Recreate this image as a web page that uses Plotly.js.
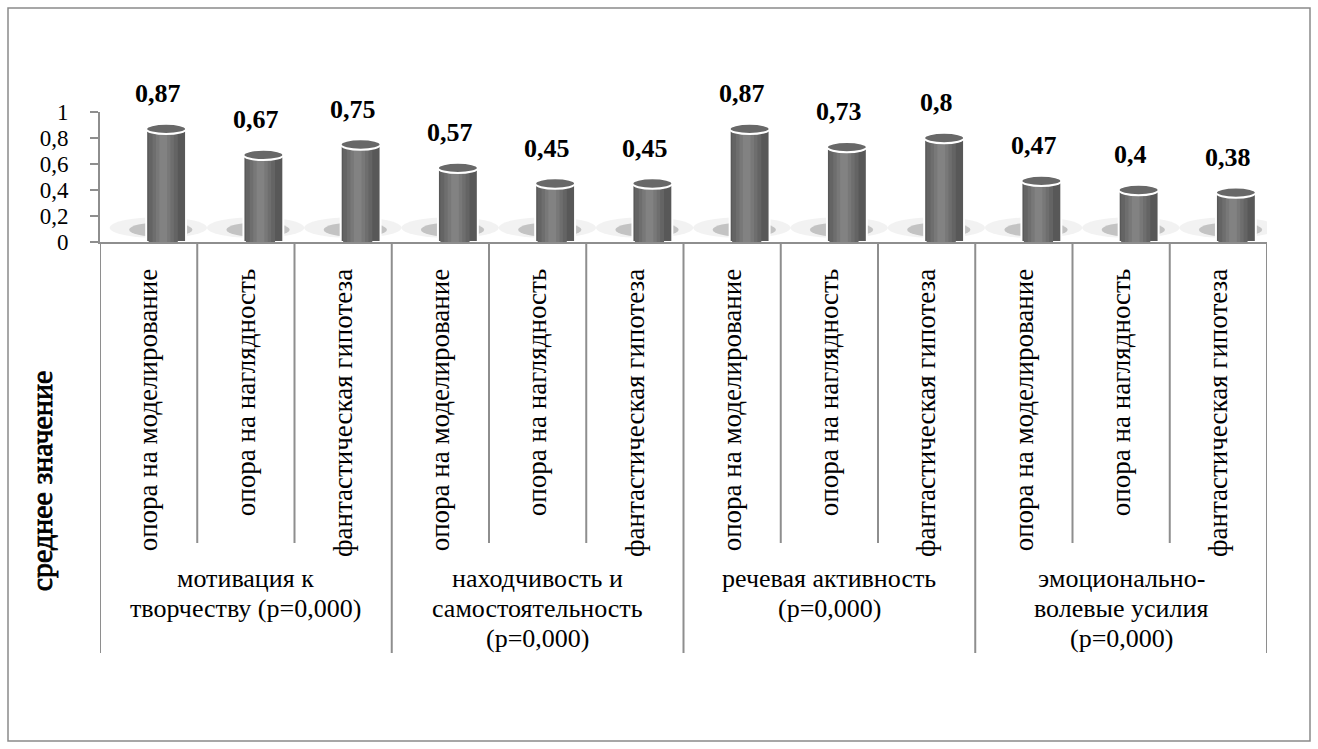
<!DOCTYPE html>
<html>
<head>
<meta charset="utf-8">
<script src="https://cdn.plot.ly/plotly-3.0.1.min.js"></script>
<style>.modebar-container{display:none !important;}</style>
</head>
<body style="margin:0;background:#ffffff">
<div id="ytitle" style="position:absolute;left:42px;top:481px;transform:translate(-50%,-50%) rotate(-90deg);font-family:'Liberation Serif';font-weight:normal;-webkit-text-stroke:0.8px #000000;font-size:30px;color:#000000;white-space:nowrap;z-index:5">среднее значение</div>
<div id="chart"></div>
<script>
// ---- data ----
const groupLabels = [
  ["мотивация к", "творчеству (p=0,000)"],
  ["находчивость и", "самостоятельность", "(p=0,000)"],
  ["речевая активность", "(p=0,000)"],
  ["эмоционально-", "волевые усилия", "(p=0,000)"]
];
const methods = ["опора на моделирование", "опора на наглядность", "фантастическая гипотеза"];
const values = [0.87, 0.67, 0.75, 0.57, 0.45, 0.45, 0.87, 0.73, 0.8, 0.47, 0.4, 0.38];
const yTicks = [0, 0.2, 0.4, 0.6, 0.8, 1];

// ---- layout helpers (pixel -> paper) ----
const W = 1318, H = 749;
const PL = 100, PR = 1267, PT = 112, PB = 242;
const px = v => (v - PL) / (PR - PL);
const py = v => (PB - v) / (PB - PT);
const SERIF = 'Liberation Serif';
const GRID = "#8e8e8e";

const catLabels = [];
groupLabels.forEach(() => methods.forEach(m => catLabels.push(m)));
const idx = values.map((_, i) => i);
const fmt = v => String(v).replace('.', ',');

const BW = 0.41, SH = 0.18; // bar width, 3D shift
const shades = [
  {w: 0.30, c: '#646464'},
  {w: 0.22, c: '#6e6e6e'},
  {w: 0.15, c: '#787878'},
  {w: 0.08, c: '#828282'}
];
const traces = [
  {type: 'bar', x: idx, y: values, width: BW, offset: SH - BW / 2,
   marker: {color: '#585858', line: {color: '#ffffff', width: 2}}, hoverinfo: 'y', cliponaxis: false}
];
shades.forEach(s => traces.push({type: 'bar', x: idx, y: values, width: s.w, offset: SH - 0.03 - s.w / 2,
  marker: {color: s.c, line: {width: 0}}, hoverinfo: 'skip', cliponaxis: false}));

const shapes = [];
// floor shadows
idx.forEach(i => {
  shapes.push({type: 'circle', layer: 'below', xref: 'x', yref: 'y',
    x0: i - 0.4, x1: i + 0.6, y0: 0.03, y1: 0.19,
    fillcolor: 'rgba(170,170,170,0.15)', line: {width: 0}});
  shapes.push({type: 'circle', layer: 'below', xref: 'x', yref: 'y',
    x0: i - 0.2, x1: i + 0.45, y0: 0.04, y1: 0.15,
    fillcolor: 'rgba(110,110,110,0.35)', line: {width: 0}});
});
// cylinder tops
values.forEach((v, i) => {
  shapes.push({type: 'circle', layer: 'above', xref: 'x', yref: 'y',
    x0: i + SH - BW / 2, x1: i + SH + BW / 2, y0: v - 0.04, y1: v + 0.04,
    fillcolor: '#686868', line: {color: '#ffffff', width: 2}});
});
// category separators
for (let b = 0; b <= values.length; b++) {
  const isGroup = b % methods.length === 0;
  shapes.push({type: 'line', xref: 'x', yref: 'paper',
    x0: b - 0.5, x1: b - 0.5, y0: 0, y1: py(isGroup ? 653 : 543),
    line: {color: GRID, width: 2}});
}
// outer frame
shapes.push({type: 'rect', xref: 'paper', yref: 'paper',
  x0: px(8), x1: px(1310), y0: py(8), y1: py(741),
  line: {color: '#8a8a8a', width: 1.5}, fillcolor: 'rgba(0,0,0,0)'});

const annotations = [];
// data labels
values.forEach((v, i) => {
  annotations.push({x: i + 0.1, y: v, xref: 'x', yref: 'y', text: '<b>' + fmt(v) + '</b>',
    showarrow: false, yanchor: 'bottom', xanchor: 'center', yshift: 19,
    font: {family: SERIF, size: 26, color: '#000000'}});
});
// group labels (one annotation per line)
groupLabels.forEach((lines, g) => {
  lines.forEach((ln, k) => {
    annotations.push({x: g * methods.length + (methods.length - 1) / 2, xref: 'x',
      y: py(578 + 30 * k), yref: 'paper', text: ln, showarrow: false,
      xanchor: 'center', yanchor: 'middle',
      font: {family: SERIF, size: 26, color: '#000000'}});
  });
});

const layout = {
  width: W, height: H,
  margin: {l: PL, r: W - PR, t: PT, b: H - PB},
  paper_bgcolor: '#ffffff', plot_bgcolor: '#ffffff',
  showlegend: false, barmode: 'overlay',
  font: {family: SERIF, size: 26, color: '#000000'},
  xaxis: {range: [-0.5, values.length - 0.5], tickmode: 'array', tickvals: idx, ticktext: catLabels,
    tickangle: -90, ticks: '', ticklabelstandoff: 14, showline: true, linecolor: GRID, linewidth: 2,
    showgrid: false, zeroline: false,
    tickfont: {family: SERIF, size: 27, color: '#000000'}},
  yaxis: {range: [0, 1], tickmode: 'array', tickvals: yTicks, ticktext: yTicks.map(fmt),
    ticks: 'outside', ticklen: 8,
    tickcolor: GRID, tickwidth: 2, showline: true, linecolor: GRID, linewidth: 2,
    showgrid: false, zeroline: false, ticklabelstandoff: 17,
    tickfont: {family: SERIF, size: 23, color: '#000000'}},
  shapes: shapes,
  annotations: annotations
};

const draw = () => Plotly.newPlot('chart', traces, layout);
draw();
if (document.fonts && document.fonts.load) {
  Promise.all([
    document.fonts.load('26px "Liberation Serif"'),
    document.fonts.load('bold 26px "Liberation Serif"')
  ]).then(draw, draw);
}
</script>
</body>
</html>
